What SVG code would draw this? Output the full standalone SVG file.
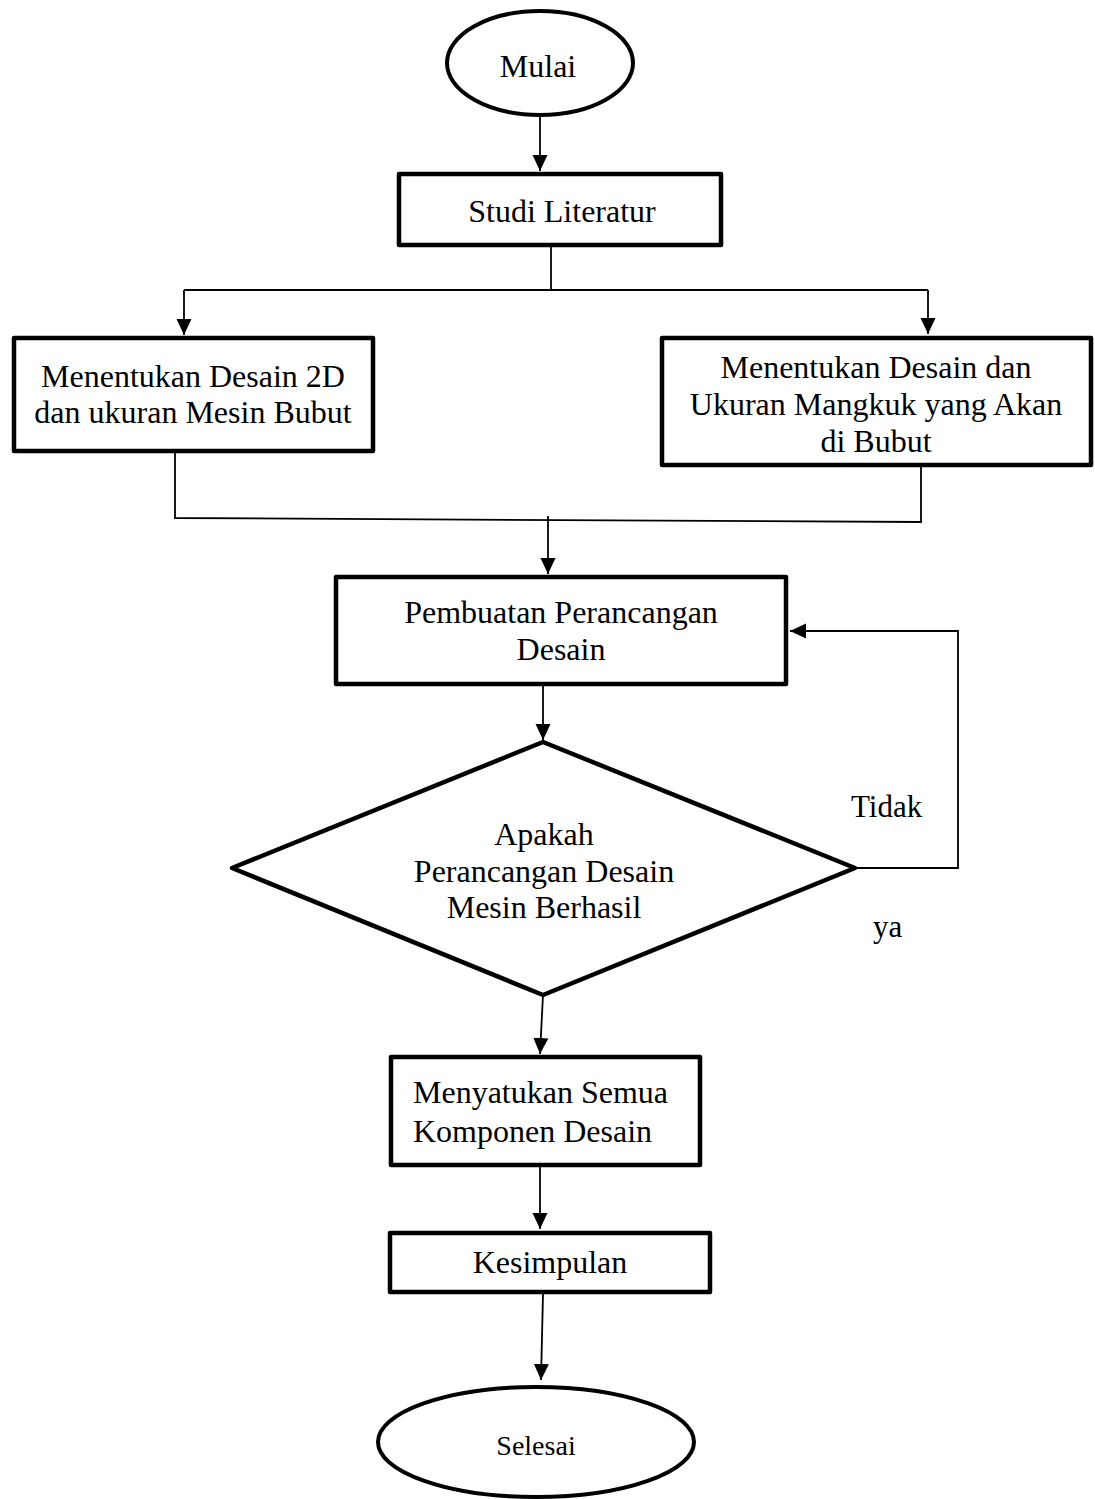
<svg xmlns="http://www.w3.org/2000/svg" width="1095" height="1499" viewBox="0 0 1095 1499">
<style>
.node{fill:#fff;stroke:#000;stroke-width:4.5;stroke-linejoin:round}
.conn{fill:none;stroke:#000;stroke-width:1.8}
.arr{marker-end:url(#ah)}
text{font-family:"Liberation Serif","Times New Roman",serif;font-size:32px;fill:#000}
.c{text-anchor:middle}
</style>
<defs>
<marker id="ah" markerUnits="userSpaceOnUse" markerWidth="16" markerHeight="16" refX="16" refY="8" orient="auto">
<path d="M0,0.5 L16,8 L0,15.5 z" fill="#000"/>
</marker>
</defs>
<rect width="1095" height="1499" fill="#fff"/>
<g id="connectors">
<path class="conn arr" d="M540,117 L540,171"/>
<path class="conn" d="M551,247 L551,290"/>
<path class="conn" d="M184,290 L928,290"/>
<path class="conn arr" d="M184,290 L184,335"/>
<path class="conn arr" d="M928,290 L928,334"/>
<path class="conn" d="M175,452 L175,518 L921,522 L921,467"/>
<path class="conn arr" d="M548,516 L548,574"/>
<path class="conn arr" d="M543,686 L543,740"/>
<path class="conn arr" d="M855,868 L958,868 L958,631 L790,631"/>
<path class="conn arr" d="M543,995 L540,1054"/>
<path class="conn arr" d="M540,1167 L540,1229"/>
<path class="conn arr" d="M543,1294 L541,1380"/>
</g>
<g id="mulai">
<ellipse class="node" cx="540" cy="63" rx="93" ry="52" style="stroke-width:4"/>
<text class="c" x="538" y="77">Mulai</text>
</g>
<g id="studi">
<rect class="node" x="399" y="174" width="322" height="71"/>
<text class="c" x="562" y="222">Studi Literatur</text>
</g>
<g id="desain2d">
<rect class="node" x="14" y="338" width="359" height="113"/>
<text class="c" x="193" y="387">Menentukan Desain 2D</text>
<text class="c" x="193" y="423">dan ukuran Mesin Bubut</text>
</g>
<g id="desainmangkuk">
<rect class="node" x="662" y="338" width="429" height="127"/>
<text class="c" x="876" y="378">Menentukan Desain dan</text>
<text class="c" x="876" y="415">Ukuran Mangkuk yang Akan</text>
<text class="c" x="876" y="452">di Bubut</text>
</g>
<g id="pembuatan">
<rect class="node" x="336" y="577" width="450" height="107"/>
<text class="c" x="561" y="623">Pembuatan Perancangan</text>
<text class="c" x="561" y="660">Desain</text>
</g>
<g id="keputusan">
<polygon class="node" points="543,742 855,868 543,995 232,868"/>
<text class="c" x="544" y="845">Apakah</text>
<text class="c" x="544" y="882">Perancangan Desain</text>
<text class="c" x="544" y="918">Mesin Berhasil</text>
</g>
<g id="labels">
<text x="851" y="817" style="font-size:31px">Tidak</text>
<text x="873" y="937" style="font-size:31px">ya</text>
</g>
<g id="menyatukan">
<rect class="node" x="391" y="1057" width="309" height="108"/>
<text x="413" y="1103">Menyatukan Semua</text>
<text x="413" y="1142">Komponen Desain</text>
</g>
<g id="kesimpulan">
<rect class="node" x="390" y="1233" width="320" height="59"/>
<text class="c" x="550" y="1273">Kesimpulan</text>
</g>
<g id="selesai">
<ellipse class="node" cx="536" cy="1442" rx="158" ry="55" style="stroke-width:4"/>
<text class="c" x="536" y="1455" style="font-size:28px">Selesai</text>
</g>
</svg>
